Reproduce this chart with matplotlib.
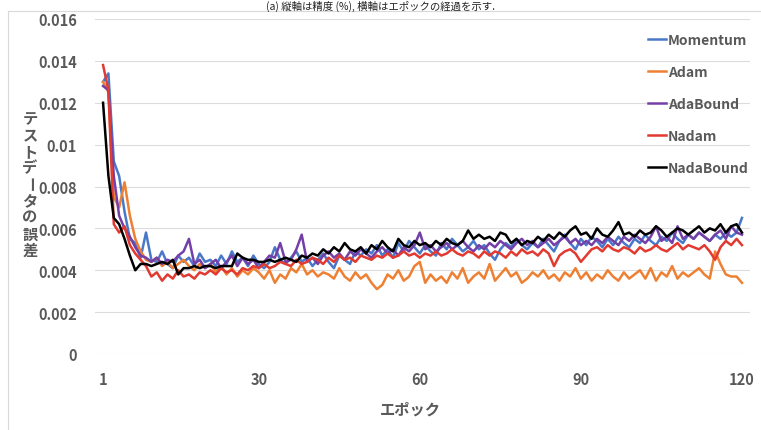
import numpy as np
import matplotlib
matplotlib.use("Agg")
import matplotlib.pyplot as plt
from matplotlib.lines import Line2D

plt.rcParams['font.family'] = ['Noto Sans CJK JP', 'DejaVu Sans']

epochs = np.arange(1, 121)
xticks = [1, 30, 60, 90, 120]
yticks = [0, 0.002, 0.004, 0.006, 0.008, 0.01, 0.012, 0.014, 0.016]
ytick_labels = ['0', '0.002', '0.004', '0.006', '0.008', '0.01', '0.012', '0.014', '0.016']

title = "(a) 縦軸は精度 (%), 横軸はエポックの経過を示す."
xlabel = "エポック"
ylabel = "テストデータの誤差"

names = ['Momentum', 'Adam', 'AdaBound', 'Nadam', 'NadaBound']
colors = ['#4A78C8', '#EE8033', '#7440A8', '#E23A30', '#000000']

momentum = [
    0.0130, 0.0134, 0.0092, 0.0085, 0.0068, 0.0055, 0.0053, 0.0046, 0.0058, 0.0045,
    0.0044, 0.0049, 0.0043, 0.0041, 0.0047, 0.0044, 0.0046, 0.0042, 0.0048, 0.0044,
    0.0045, 0.0042, 0.0047, 0.0043, 0.0049, 0.0044, 0.0046, 0.0042, 0.0047, 0.0043,
    0.0041, 0.0044, 0.0051, 0.0045, 0.0043, 0.0046, 0.0049, 0.0044, 0.0046, 0.0042,
    0.0045, 0.0048, 0.0044, 0.0041, 0.0047, 0.0045, 0.0043, 0.0049, 0.0047, 0.0050,
    0.0048, 0.0052, 0.0047, 0.0050, 0.0046, 0.0053, 0.0049, 0.0054, 0.0051, 0.0048,
    0.0052, 0.0049, 0.0047, 0.0053, 0.0050, 0.0055, 0.0052, 0.0049, 0.0051, 0.0054,
    0.0050, 0.0052, 0.0048, 0.0045, 0.0050, 0.0053, 0.0051, 0.0055, 0.0052, 0.0050,
    0.0053, 0.0051, 0.0055, 0.0052, 0.0049, 0.0054, 0.0057, 0.0053, 0.0050, 0.0055,
    0.0052, 0.0056, 0.0054, 0.0051, 0.0055, 0.0052, 0.0056, 0.0053, 0.0051, 0.0055,
    0.0053, 0.0057, 0.0054, 0.0052, 0.0056, 0.0054, 0.0058, 0.0055, 0.0053, 0.0057,
    0.0055, 0.0058, 0.0056, 0.0054, 0.0057, 0.0055, 0.0058, 0.0056, 0.0058, 0.0065]

adam = [
    0.0130, 0.0125, 0.0075, 0.0070, 0.0082, 0.0066, 0.0055, 0.0049, 0.0045, 0.0044,
    0.0046, 0.0042, 0.0044, 0.0041, 0.0043, 0.0045, 0.0042, 0.0040, 0.0043, 0.0041,
    0.0043, 0.0039, 0.0042, 0.0038, 0.0041, 0.0037, 0.0040, 0.0038, 0.0041, 0.0039,
    0.0036, 0.0040, 0.0034, 0.0038, 0.0036, 0.0041, 0.0039, 0.0043, 0.0038, 0.0040,
    0.0037, 0.0039, 0.0038, 0.0036, 0.0041, 0.0037, 0.0035, 0.0039, 0.0036, 0.0038,
    0.0034, 0.0031, 0.0033, 0.0038, 0.0036, 0.0040, 0.0035, 0.0037, 0.0042, 0.0044,
    0.0034, 0.0038, 0.0035, 0.0037, 0.0034, 0.0039, 0.0036, 0.0041, 0.0034, 0.0037,
    0.0039, 0.0036, 0.0043, 0.0035, 0.0038, 0.0041, 0.0037, 0.0039, 0.0034, 0.0036,
    0.0039, 0.0037, 0.0040, 0.0036, 0.0038, 0.0035, 0.0039, 0.0037, 0.0041, 0.0036,
    0.0039, 0.0035, 0.0038, 0.0036, 0.0040, 0.0037, 0.0035, 0.0039, 0.0036, 0.0038,
    0.0040, 0.0036, 0.0041, 0.0035, 0.0039, 0.0037, 0.0042, 0.0036, 0.0039, 0.0037,
    0.0039, 0.0041, 0.0038, 0.0036, 0.0049, 0.0043, 0.0038, 0.0037, 0.0037, 0.0034]

adabound = [
    0.0128, 0.0126, 0.0085, 0.0066, 0.0060, 0.0056, 0.0051, 0.0047, 0.0046, 0.0044,
    0.0046, 0.0043, 0.0045, 0.0044, 0.0047, 0.0049, 0.0055, 0.0043, 0.0045, 0.0041,
    0.0043, 0.0045, 0.0041, 0.0044, 0.0047, 0.0042, 0.0046, 0.0043, 0.0045, 0.0041,
    0.0044, 0.0047, 0.0046, 0.0053, 0.0044, 0.0045, 0.0050, 0.0057, 0.0044, 0.0046,
    0.0043, 0.0047, 0.0049, 0.0046, 0.0048, 0.0045, 0.0049, 0.0047, 0.0050, 0.0048,
    0.0046, 0.0049, 0.0051, 0.0048, 0.0050, 0.0047, 0.0051, 0.0049, 0.0052, 0.0058,
    0.0050, 0.0052, 0.0049, 0.0051, 0.0053, 0.0050, 0.0052, 0.0054, 0.0051, 0.0049,
    0.0052, 0.0050, 0.0053, 0.0051, 0.0054, 0.0052, 0.0050, 0.0053, 0.0055, 0.0052,
    0.0054, 0.0051, 0.0053, 0.0055, 0.0052, 0.0054, 0.0056, 0.0053, 0.0055, 0.0052,
    0.0054, 0.0052, 0.0055, 0.0053, 0.0056, 0.0054, 0.0052, 0.0056, 0.0054, 0.0057,
    0.0055, 0.0053, 0.0056, 0.0061, 0.0054, 0.0056, 0.0053, 0.0061, 0.0055, 0.0057,
    0.0055, 0.0058, 0.0056, 0.0054, 0.0057, 0.0059, 0.0055, 0.0061, 0.0058, 0.0057]

nadam = [
    0.0138, 0.0126, 0.0062, 0.0058, 0.0061, 0.0052, 0.0048, 0.0045, 0.0042, 0.0037,
    0.0039, 0.0035, 0.0038, 0.0036, 0.0040, 0.0037, 0.0038, 0.0036, 0.0039, 0.0038,
    0.0040, 0.0038, 0.0041, 0.0039, 0.0040, 0.0038, 0.0041, 0.0040, 0.0042, 0.0041,
    0.0043, 0.0041, 0.0042, 0.0044, 0.0043, 0.0042, 0.0045, 0.0043, 0.0044, 0.0046,
    0.0045, 0.0043, 0.0046, 0.0044, 0.0047, 0.0045, 0.0046, 0.0044, 0.0047, 0.0046,
    0.0045, 0.0047, 0.0046, 0.0048, 0.0046, 0.0047, 0.0049, 0.0047, 0.0048, 0.0046,
    0.0048, 0.0047, 0.0049, 0.0047, 0.0048, 0.0050, 0.0048, 0.0047, 0.0049, 0.0048,
    0.0046, 0.0049, 0.0047, 0.0049, 0.0048, 0.0046, 0.0049, 0.0047, 0.0050, 0.0048,
    0.0049, 0.0047, 0.0050, 0.0048, 0.0042, 0.0047, 0.0049, 0.0050, 0.0048, 0.0044,
    0.0047, 0.0050, 0.0051, 0.0049, 0.0052, 0.0050, 0.0049, 0.0051, 0.0050, 0.0048,
    0.0051, 0.0049, 0.0050, 0.0052, 0.0050, 0.0049, 0.0051, 0.0053, 0.0050, 0.0052,
    0.0051, 0.0050, 0.0052, 0.0049, 0.0045, 0.0051, 0.0054, 0.0052, 0.0055, 0.0052]

nadabound = [
    0.0120, 0.0085, 0.0065, 0.0062, 0.0055, 0.0047, 0.0040, 0.0043, 0.0043, 0.0042,
    0.0043, 0.0044, 0.0043, 0.0045, 0.0038, 0.0041, 0.0041, 0.0042, 0.0041, 0.0042,
    0.0042, 0.0041, 0.0042, 0.0042, 0.0042, 0.0048, 0.0046, 0.0045, 0.0045, 0.0044,
    0.0044, 0.0045, 0.0044, 0.0045, 0.0046, 0.0045, 0.0044, 0.0047, 0.0046, 0.0048,
    0.0047, 0.0050, 0.0048, 0.0051, 0.0049, 0.0053, 0.0050, 0.0049, 0.0051, 0.0048,
    0.0052, 0.0050, 0.0054, 0.0051, 0.0049, 0.0055, 0.0052, 0.0051, 0.0054, 0.0052,
    0.0053, 0.0051, 0.0054, 0.0052, 0.0055, 0.0053, 0.0052, 0.0054, 0.0059, 0.0055,
    0.0057, 0.0055, 0.0056, 0.0054, 0.0058, 0.0057, 0.0053, 0.0055, 0.0052, 0.0054,
    0.0053, 0.0056, 0.0054, 0.0057, 0.0055, 0.0058, 0.0056, 0.0059, 0.0061, 0.0057,
    0.0058, 0.0055, 0.0060, 0.0057, 0.0056, 0.0059, 0.0063, 0.0057, 0.0058, 0.0056,
    0.0059, 0.0057, 0.0058, 0.0061, 0.0059, 0.0056, 0.0058, 0.0060, 0.0059, 0.0057,
    0.0059, 0.0061, 0.0058, 0.0060, 0.0059, 0.0062, 0.0058, 0.0061, 0.0062, 0.0058]

series = [momentum, adam, adabound, nadam, nadabound]

W, H = 761, 431
fig = plt.figure(figsize=(W / 100, H / 100), dpi=100)
fig.patch.set_facecolor('white')
ax = fig.add_axes([95 / W, 1 - 355 / H, (750 - 95) / W, (355 - 20) / H])

for vals, name, c in zip(series, names, colors):
    ax.plot(epochs, vals, color=c, lw=1.8, label=name, solid_joinstyle='round')

ax.set_xlim(-0.5, 121.5)
ax.set_ylim(0, 0.016)
ax.set_yticks(yticks)
ax.set_yticklabels(ytick_labels)
ax.set_xticks(xticks)
ax.grid(axis='y', color='#dcdcdc', lw=0.8)
ax.set_axisbelow(True)
for s in ax.spines.values():
    s.set_visible(False)
ax.tick_params(length=0, colors='#595959', labelsize=10.5)
ax.tick_params(axis='y', pad=13)
ax.tick_params(axis='x', pad=12)
for lab in ax.get_xticklabels() + ax.get_yticklabels():
    lab.set_fontweight('bold')

# chart-area border (top and left)
fig.add_artist(Line2D([8 / W, 1], [1 - 12 / H, 1 - 12 / H], color='#d9d9d9', lw=0.8))
fig.add_artist(Line2D([8 / W, 8 / W], [0, 1 - 12 / H], color='#d9d9d9', lw=0.8))

# caption strip at the very top
fig.text(380 / W, 1 - 0.5 / H, title, ha='center', va='top', fontsize=7.5,
         color='#222222')

fig.text(410 / W, 1 - 410 / H, xlabel, ha='center', va='center', fontsize=11,
         fontweight='bold', color='#595959')

# stacked vertical y label
y0, step = 119, 16.5
for i, ch in enumerate(ylabel):
    fig.text(30 / W, 1 - (y0 + i * step) / H, ch, ha='center', va='center',
             fontsize=11, fontweight='bold', color='#595959',
             rotation=-90 if ch == 'ー' else 0)

leg = ax.legend(loc='upper left', bbox_to_anchor=(641 / W, 1 - 27 / H),
                bbox_transform=fig.transFigure, frameon=False, fontsize=10,
                handlelength=1.3, handletextpad=0.15, labelspacing=1.3,
                borderpad=0)
for t in leg.get_texts():
    t.set_color('#595959')
    t.set_fontweight('bold')

fig.savefig('out.png', dpi=100)
